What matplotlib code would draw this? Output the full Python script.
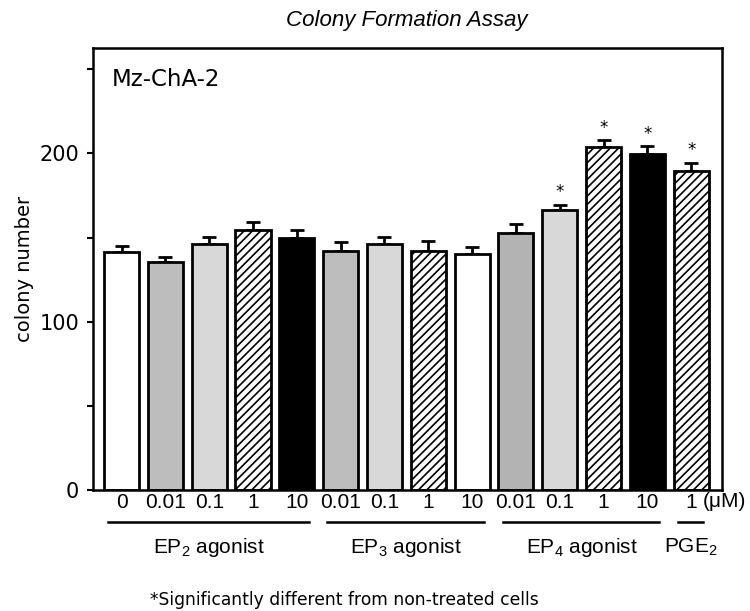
import matplotlib
matplotlib.use("Agg")
import matplotlib.pyplot as plt
import matplotlib.transforms as mtransforms
import numpy as np

plt.rcParams['font.family'] = ['Liberation Sans', 'DejaVu Sans']
plt.rcParams['mathtext.fontset'] = 'custom'
plt.rcParams['mathtext.rm'] = 'Liberation Sans'
plt.rcParams['hatch.linewidth'] = 1.2

# data
doses = ['0', '0.01', '0.1', '1', '10',
         '0.01', '0.1', '1', '10',
         '0.01', '0.1', '1', '10',
         '1']
colonies = [141.7, 135.7, 146.2, 154.6, 149.8,
            141.9, 146.2, 141.9, 140.3,
            152.6, 166.5, 203.8, 199.8,
            189.3]
sem = [3.3, 3.0, 4.0, 4.5, 4.8,
       5.5, 4.0, 5.9, 3.9,
       5.5, 3.0, 3.9, 4.5,
       5.2]
significant = [False, False, False, False, False,
               False, False, False, False,
               False, True, True, True,
               True]
groups = [r'EP$_2$ agonist', r'EP$_3$ agonist', r'EP$_4$ agonist', r'PGE$_2$']
group_members = [[0, 1, 2, 3, 4], [5, 6, 7, 8], [9, 10, 11, 12], [13]]

# bar looks: (facecolor, hatch)
looks = [('white', None), ('#bdbdbd', None), ('#d8d8d8', None), ('white', '////'), ('black', None),
         ('#bdbdbd', None), ('#d8d8d8', None), ('white', '////'), ('white', None),
         ('#b3b3b3', None), ('#d8d8d8', None), ('white', '////'), ('black', None),
         ('white', '////')]

fig = plt.figure(figsize=(7.5, 6.11), dpi=100)
ax = fig.add_axes([0.124, 0.198, 0.839, 0.723])

x = np.arange(len(colonies))
for i in range(len(x)):
    fc, h = looks[i]
    ax.bar(x[i], colonies[i], width=0.8, facecolor=fc, edgecolor='black',
           linewidth=2, hatch=h, zorder=2)

ax.errorbar(x, colonies, yerr=[np.zeros(len(sem)), sem], fmt='none',
            ecolor='black', elinewidth=2, capsize=5, capthick=2, zorder=1)

for i in range(len(x)):
    if significant[i]:
        ax.text(x[i], colonies[i] + sem[i] + 2, '*', ha='center', va='bottom',
                fontsize=12, family='DejaVu Sans')

ax.set_xlim(-0.652, 13.71)
ax.set_ylim(0, 262.5)
ax.set_yticks([0, 100, 200])
ax.set_yticklabels(['0', '100', '200'], family='DejaVu Sans', fontsize=15)
ax.set_yticks([50, 150, 250], minor=True)
ax.tick_params(axis='y', which='both', direction='out', length=4, width=1.5, pad=6)
ax.set_xticks(x)
ax.set_xticklabels(doses, fontsize=15)
ax.tick_params(axis='x', length=0, pad=2)
for s in ax.spines.values():
    s.set_linewidth(1.8)

ax.set_ylabel('colony number', family='DejaVu Sans', fontsize=14, labelpad=4)

trans = mtransforms.blended_transform_factory(ax.transData, ax.transAxes)
ax.text(13.27, -0.027, '(μM)', transform=trans, ha='left', va='center', fontsize=15)

for name, members in zip(groups, group_members):
    lo, hi = members[0] - 0.3, members[-1] + 0.27
    ax.plot([lo, hi], [-0.073, -0.073], color='black', lw=1.8,
            transform=trans, clip_on=False)
    ax.text(np.mean(members), -0.13, name, transform=trans, ha='center',
            va='center', fontsize=15)

ax.text(0.03, 0.93, 'Mz-ChA-2', transform=ax.transAxes, family='DejaVu Sans',
        fontsize=16.5, ha='left', va='center')

fig.text(0.542, 0.967, 'Colony Formation Assay', ha='center', va='center',
         fontsize=16, style='italic')
fig.text(0.2, 0.004, '*Significantly different from non-treated cells',
         family='DejaVu Sans', fontsize=12.3, ha='left', va='bottom')

fig.savefig('out.png', dpi=100)
